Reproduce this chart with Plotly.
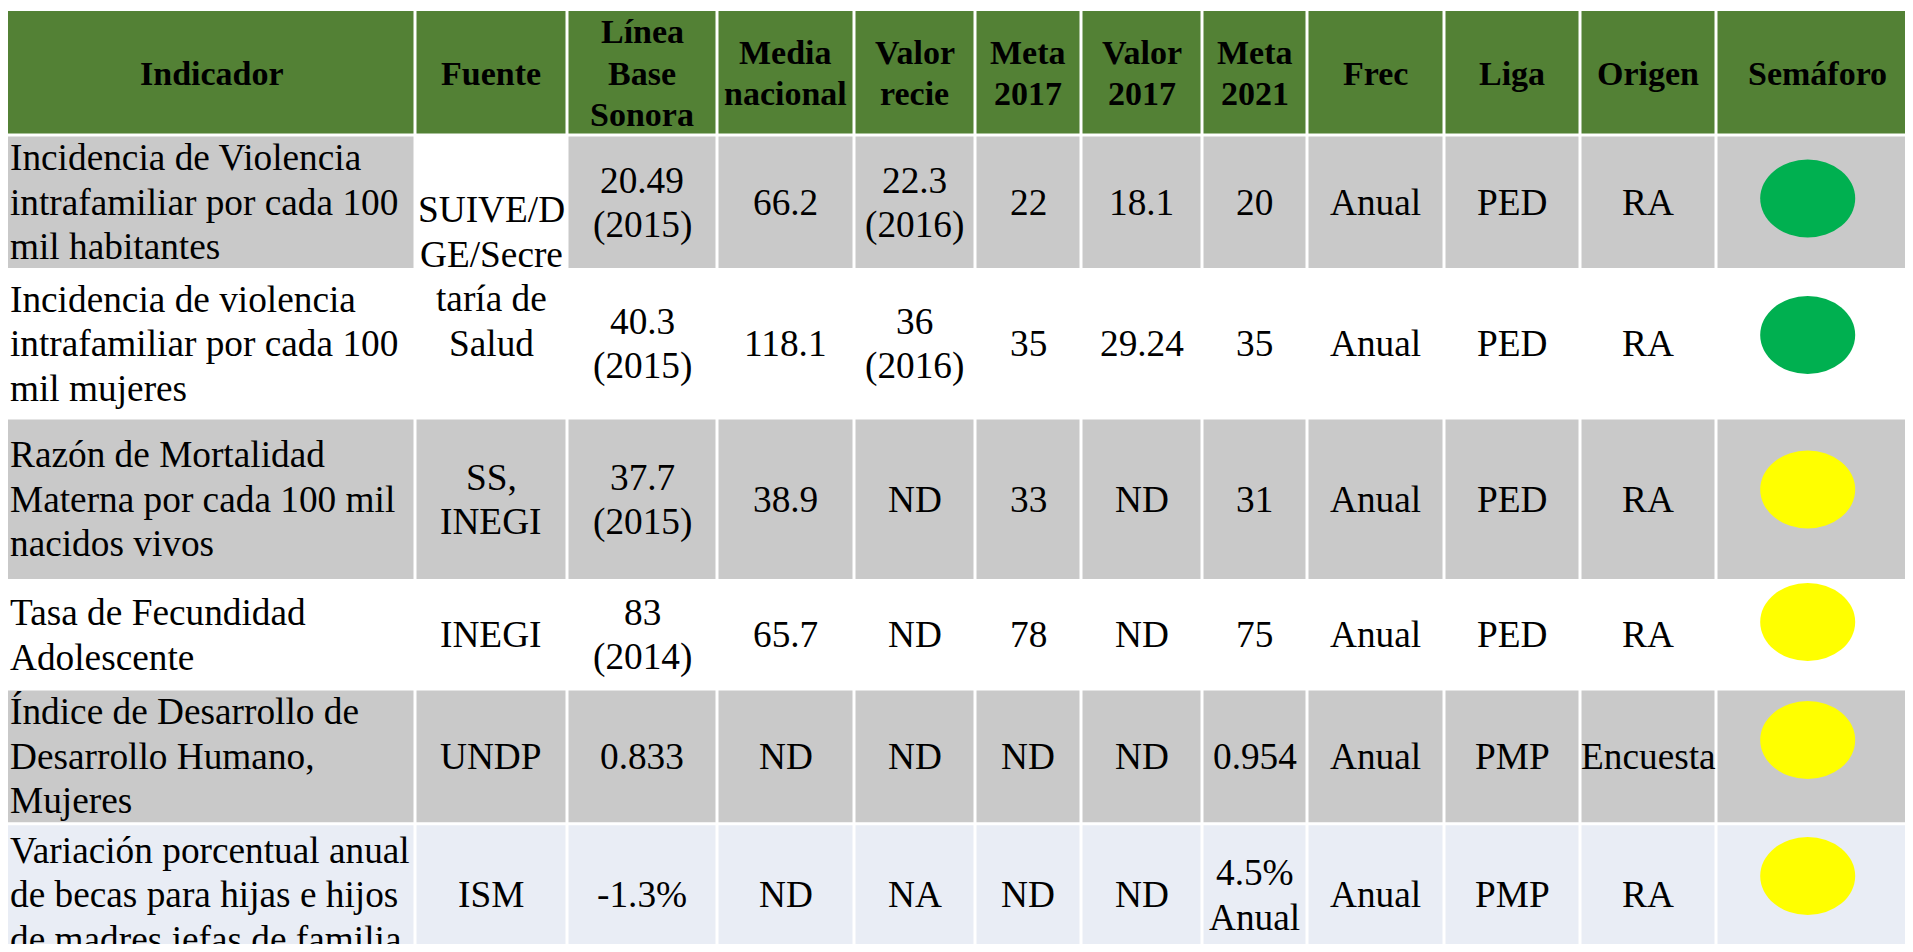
import plotly.graph_objects as go

# ---------------- data ----------------
headers = ["Indicador", "Fuente", "Línea\nBase\nSonora", "Media\nnacional", "Valor\nrecie",
           "Meta\n2017", "Valor\n2017", "Meta\n2021", "Frec", "Liga", "Origen", "Semáforo"]

indicador = [
    "Incidencia de Violencia\nintrafamiliar por cada 100\nmil habitantes",
    "Incidencia de violencia\nintrafamiliar por cada 100\nmil mujeres",
    "Razón de Mortalidad\nMaterna por cada 100 mil\nnacidos vivos",
    "Tasa de Fecundidad\nAdolescente",
    "Índice de Desarrollo de\nDesarrollo Humano,\nMujeres",
    "Variación porcentual anual\nde becas para hijas e hijos\nde madres jefas de familia",
]
# None = merged with the cell above
fuente = ["SUIVE/D\nGE/Secre\ntaría de\nSalud", None, "SS,\nINEGI", "INEGI", "UNDP", "ISM"]
linea_base = ["20.49\n(2015)", "40.3\n(2015)", "37.7\n(2015)", "83\n(2014)", "0.833", "-1.3%"]
media_nacional = ["66.2", "118.1", "38.9", "65.7", "ND", "ND"]
valor_reciente = ["22.3\n(2016)", "36\n(2016)", "ND", "ND", "ND", "NA"]
meta_2017 = ["22", "35", "33", "78", "ND", "ND"]
valor_2017 = ["18.1", "29.24", "ND", "ND", "ND", "ND"]
meta_2021 = ["20", "35", "31", "75", "0.954", "4.5%\nAnual"]
frec = ["Anual", "Anual", "Anual", "Anual", "Anual", "Anual"]
liga = ["PED", "PED", "PED", "PED", "PMP", "PMP"]
origen = ["RA", "RA", "RA", "RA", "Encuesta", "RA"]
semaforo = ["verde", "verde", "amarillo", "amarillo", "amarillo", "amarillo"]

# ---------------- layout / style ----------------
col_edges = [8, 415, 567, 717, 854, 975, 1081, 1202, 1307, 1444, 1580, 1716, 1919]
row_edges = [11, 135, 269.5, 418, 580.5, 689, 823.7, 966]
row_fill = ["#C9C9C9", "#FFFFFF", "#C9C9C9", "#FFFFFF", "#C9C9C9", "#E9EDF5"]
header_fill = "#538135"
merged_fill = "#FFFFFF"
sem_colors = {"verde": "#00B050", "amarillo": "#FFFF00"}
sem_cx = 1807.7
sem_cy = [198.5, 335, 489.5, 622, 740, 876]
sem_w, sem_h = 95, 78
GAP = 1.5
FONT = "Liberation Serif"
BODY_SIZE, BODY_LH = 37.3, 44.5
HEAD_SIZE, HEAD_LH = 34, 41.7
TEXT_DY = 0
LEFT_PAD = 0

columns = [indicador, fuente, linea_base, media_nacional, valor_reciente, meta_2017,
           valor_2017, meta_2021, frec, liga, origen]

fig = go.Figure()
fig.add_trace(go.Scatter(x=[], y=[], hoverinfo="skip", showlegend=False))

shapes = []
annotations = []


def rect(x0, x1, y0, y1, color):
    shapes.append(dict(type="rect", xref="x", yref="y", x0=x0, x1=x1, y0=y0, y1=y1,
                       fillcolor=color, line=dict(width=0), layer="below"))


def text(x, yc, s, size, lh, bold=False, anchor="center"):
    lines = s.split("\n")
    n = len(lines)
    for i, ln in enumerate(lines):
        annotations.append(dict(
            x=x, y=yc + (i - (n - 1) / 2) * lh + TEXT_DY, xref="x", yref="y",
            text=ln, showarrow=False, xanchor=anchor, yanchor="middle",
            font=dict(family=FONT, size=size, color="black", weight=700 if bold else 400),
        ))


def cx0(c):
    return col_edges[c] + (0 if c == 0 else GAP)


def cx1(c):
    return col_edges[c + 1] - GAP


def ry0(r):
    return row_edges[r] + (0 if r == 0 else GAP)


def ry1(r):
    return row_edges[r + 1] - GAP


# header
for c, h in enumerate(headers):
    rect(cx0(c), cx1(c), ry0(0), ry1(0), header_fill)
    text((col_edges[c] + col_edges[c + 1]) / 2, (row_edges[0] + row_edges[1]) / 2,
         h, HEAD_SIZE, HEAD_LH, bold=True)

# body
n_rows = len(indicador)
for r in range(n_rows):
    R = r + 1
    yc = (row_edges[R] + row_edges[R + 1]) / 2
    for c in range(len(headers)):
        if c == 1:
            val = fuente[r]
            if val is None:
                continue
            span = 1
            while r + span < n_rows and fuente[r + span] is None:
                span += 1
            fill = merged_fill if span > 1 else row_fill[r]
            rect(cx0(c), cx1(c), ry0(R), ry1(R + span - 1), fill)
            text((col_edges[c] + col_edges[c + 1]) / 2,
                 (row_edges[R] + row_edges[R + span]) / 2, val, BODY_SIZE, BODY_LH)
            continue
        rect(cx0(c), cx1(c), ry0(R), ry1(R), row_fill[r])
        if c == 0:
            text(col_edges[0] + LEFT_PAD, yc, columns[0][r], BODY_SIZE, BODY_LH, anchor="left")
        elif c < len(columns):
            text((col_edges[c] + col_edges[c + 1]) / 2, yc, columns[c][r], BODY_SIZE, BODY_LH)
    # semáforo
    shapes.append(dict(type="circle", xref="x", yref="y",
                       x0=sem_cx - sem_w / 2, x1=sem_cx + sem_w / 2,
                       y0=sem_cy[r] - sem_h / 2, y1=sem_cy[r] + sem_h / 2,
                       fillcolor=sem_colors[semaforo[r]], line=dict(width=0), layer="above"))

W, H = 1905, 936
fig.update_layout(
    width=W, height=H,
    margin=dict(l=0, r=0, t=0, b=0, pad=0),
    paper_bgcolor="white", plot_bgcolor="white",
    xaxis=dict(range=[8, 8 + W], visible=False, fixedrange=True),
    yaxis=dict(range=[8 + H, 8], visible=False, fixedrange=True),
    shapes=shapes, annotations=annotations, showlegend=False,
)

fig.write_html("out.html")
